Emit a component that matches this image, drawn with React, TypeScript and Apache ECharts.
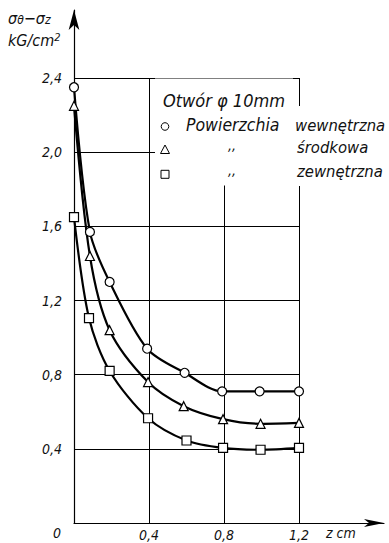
import React, { useEffect, useRef } from "react";
import * as echarts from "echarts";

// Data
const xCircle = [0, 0.085, 0.19, 0.39, 0.59, 0.79, 0.99, 1.2];
const yCircle = [2.35, 1.57, 1.3, 0.94, 0.81, 0.71, 0.71, 0.71];
const xTri = [0, 0.085, 0.19, 0.395, 0.585, 0.795, 0.995, 1.2];
const yTri = [2.25, 1.44, 1.04, 0.76, 0.63, 0.56, 0.535, 0.54];
const xSq = [0, 0.08, 0.19, 0.395, 0.6, 0.795, 0.995, 1.2];
const ySq = [1.65, 1.105, 0.82, 0.565, 0.445, 0.405, 0.395, 0.405];

const legendTitle = "Otwór φ 10mm";
const legendWord = "Powierzchia";
const legendNames = ["wewnętrzna", "środkowa", "zewnętrzna"];

const FONT = "'DejaVu Sans Condensed', 'Liberation Sans Narrow', 'Liberation Sans', sans-serif";

const pairs = (xs: number[], ys: number[]) => xs.map((x, i) => [x, ys[i]]);
const fmt = (v: number) => (v === 0 ? "" : v.toFixed(1).replace(".", ","));

export default function App() {
  const ref = useRef<HTMLDivElement>(null);
  useEffect(() => {
    if (!ref.current) return;
    const chart = echarts.init(ref.current, undefined, { renderer: "svg" });
    const txt = { fontFamily: FONT, fontStyle: "italic", fill: "#111" };
    const mkSeries = (name: string, data: number[][], symbol: string) => ({
      name,
      type: "line",
      xAxisIndex: 0,
      yAxisIndex: 0,
      data,
      smooth: 0.3,
      symbol,
      symbolSize: 9,
      showAllSymbol: true,
      z: 5,
      lineStyle: { color: "#000", width: 2.2 },
      itemStyle: { color: "#fff", borderColor: "#000", borderWidth: 1.2 },
    });
    chart.setOption({
      animation: false,
      backgroundColor: "#fff",
      grid: [
        { left: 74, top: 78, width: 225, height: 445 },
        { left: 74, top: 10, right: 5, height: 513 },
      ],
      xAxis: [
        {
          type: "value",
          gridIndex: 0,
          min: 0,
          max: 1.2,
          interval: 0.4,
          axisLine: { show: false },
          axisTick: { show: false },
          splitLine: { show: true, lineStyle: { color: "#000", width: 1 } },
          axisLabel: {
            formatter: fmt,
            margin: 5,
            fontFamily: FONT,
            fontStyle: "italic",
            fontSize: 14,
            color: "#111",
          },
        },
        {
          type: "value",
          gridIndex: 1,
          min: 0,
          max: 1,
          axisLine: {
            show: true,
            lineStyle: { color: "#000", width: 1.2 },
            symbol: ["none", "arrow"],
            symbolSize: [6, 20],
          },
          axisTick: { show: false },
          axisLabel: { show: false },
          splitLine: { show: false },
        },
      ],
      yAxis: [
        {
          type: "value",
          gridIndex: 0,
          min: 0,
          max: 2.4,
          interval: 0.4,
          axisLine: { show: false },
          axisTick: { show: false },
          splitLine: { show: true, lineStyle: { color: "#000", width: 1 } },
          axisLabel: {
            formatter: fmt,
            margin: 12,
            fontFamily: FONT,
            fontStyle: "italic",
            fontSize: 14,
            color: "#111",
          },
        },
        {
          type: "value",
          gridIndex: 1,
          min: 0,
          max: 1,
          axisLine: {
            show: true,
            lineStyle: { color: "#000", width: 1.2 },
            symbol: ["none", "arrow"],
            symbolSize: [8, 20],
          },
          axisTick: { show: false },
          axisLabel: { show: false },
          splitLine: { show: false },
        },
      ],
      series: [
        mkSeries(legendNames[0], pairs(xCircle, yCircle), "circle"),
        mkSeries(legendNames[1], pairs(xTri, yTri), "triangle"),
        mkSeries(legendNames[2], pairs(xSq, ySq), "rect"),
      ],
      graphic: [
        // white-out behind legend
        { type: "rect", z: 50, shape: { x: 155, y: 78.6, width: 138, height: 107 }, style: { fill: "#fff" } },
        { type: "rect", z: 50, shape: { x: 292, y: 106, width: 97, height: 80 }, style: { fill: "#fff" } },
        { type: "text", z: 60, x: 163, y: 100, style: { ...txt, text: legendTitle, fontSize: 18, verticalAlign: "middle" } },
        { type: "circle", z: 60, shape: { cx: 165, cy: 126.5, r: 3.8 }, style: { fill: "#fff", stroke: "#000", lineWidth: 1 } },
        { type: "polygon", z: 60, shape: { points: [[160.5, 153.5], [169.5, 153.5], [165, 145]] }, style: { fill: "#fff", stroke: "#000", lineWidth: 1 } },
        { type: "rect", z: 60, shape: { x: 161, y: 170.3, width: 8, height: 8 }, style: { fill: "#fff", stroke: "#000", lineWidth: 1 } },
        { type: "text", z: 60, x: 186, y: 125, style: { ...txt, text: legendWord, fontSize: 17.5, verticalAlign: "middle" } },
        { type: "text", z: 60, x: 295, y: 125, style: { ...txt, text: legendNames[0], fontSize: 16.5, verticalAlign: "middle" } },
        { type: "text", z: 60, x: 297, y: 147, style: { ...txt, text: legendNames[1], fontSize: 16.5, verticalAlign: "middle" } },
        { type: "text", z: 60, x: 297, y: 171, style: { ...txt, text: legendNames[2], fontSize: 16.5, verticalAlign: "middle" } },
        { type: "text", z: 60, x: 232, y: 145, style: { ...txt, text: ",,", fontSize: 14, verticalAlign: "middle", align: "center" } },
        { type: "text", z: 60, x: 232, y: 170, style: { ...txt, text: ",,", fontSize: 14, verticalAlign: "middle", align: "center" } },
        // axis titles
        {
          type: "text",
          z: 60,
          x: 8,
          y: 18,
          style: {
            ...txt,
            text: "{m|σ}{s|θ}{m|−σ}{s|z}",
            verticalAlign: "middle",
            rich: {
              m: { fontFamily: FONT, fontStyle: "italic", fontSize: 16, color: "#111" },
              s: { fontFamily: FONT, fontStyle: "italic", fontSize: 12, color: "#111", padding: [4, 0, 0, 0] },
            },
          },
        },
        {
          type: "text",
          z: 60,
          x: 8,
          y: 40,
          style: {
            ...txt,
            text: "{m|kG/cm}{p|2}",
            verticalAlign: "middle",
            rich: {
              m: { fontFamily: FONT, fontStyle: "italic", fontSize: 16, color: "#111" },
              p: { fontFamily: FONT, fontStyle: "italic", fontSize: 11, color: "#111", padding: [0, 0, 6, 0] },
            },
          },
        },
        { type: "text", z: 60, x: 57, y: 533, style: { ...txt, text: "0", fontSize: 14, align: "center", verticalAlign: "middle" } },
        { type: "text", z: 60, x: 326, y: 533, style: { ...txt, text: "z cm", fontSize: 14, verticalAlign: "middle" } },
      ],
    });
    return () => chart.dispose();
  }, []);
  return (
    <div
      ref={ref}
      style={{ position: "fixed", left: 0, top: 0, width: 389, height: 543, background: "#fff" }}
    />
  );
}
